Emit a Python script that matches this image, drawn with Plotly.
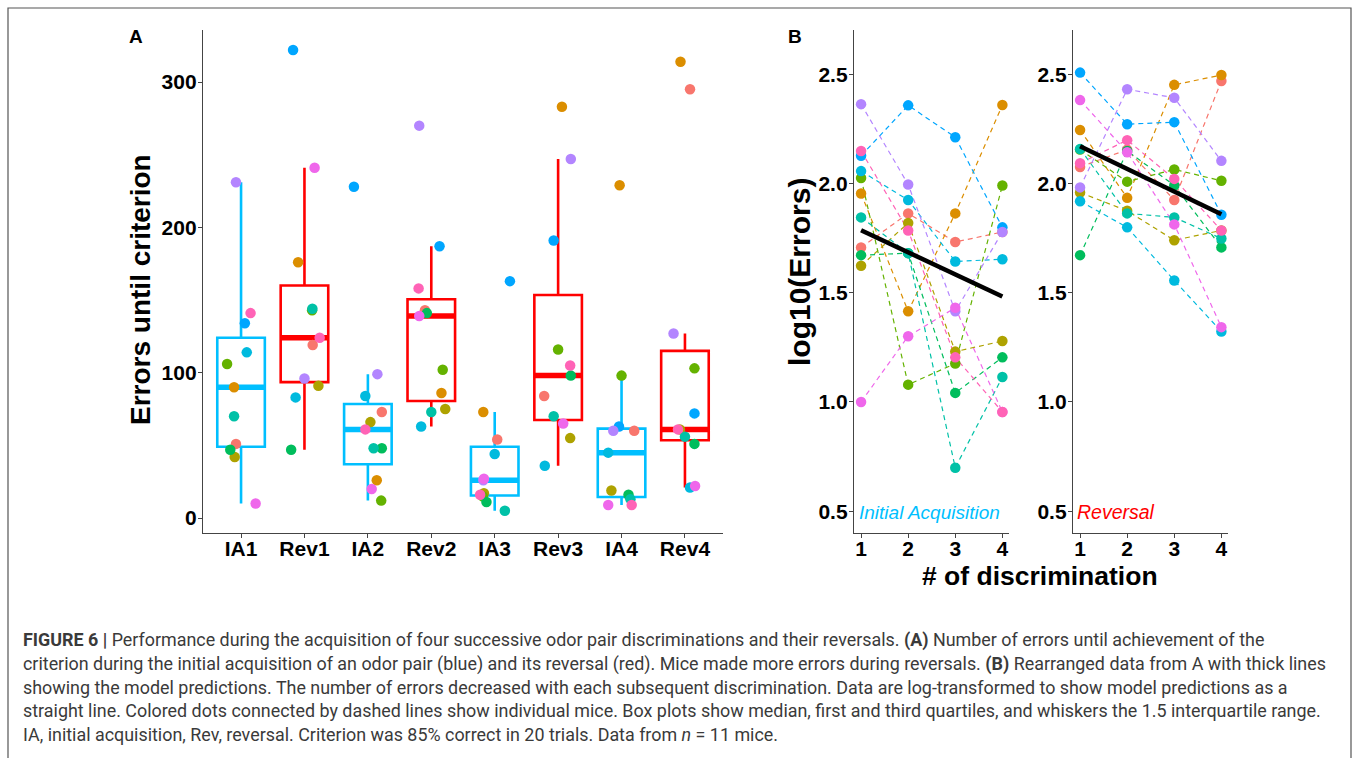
import numpy as np
import plotly.graph_objects as go

W, H = 1358, 758

# ---------------- data ----------------
STAGES = ["IA1", "Rev1", "IA2", "Rev2", "IA3", "Rev3", "IA4", "Rev4"]
DISCRIMINATIONS = [1, 2, 3, 4]
MOUSE_COLORS = ["#F8766D", "#DB8E00", "#AEA200", "#64B200", "#00BD5C", "#00C1A7",
                "#00BADE", "#00A6FF", "#B385FF", "#EF67EB", "#FF63B6"]

# errors until criterion, one row per mouse, columns = discrimination 1..4
IA_ERRORS = [
    [51, 73, 54, 60],
    [90, 26, 73, 229],
    [42, 66, 17, 19],
    [106, 12, 15, 98],
    [47, 48, 11, 16],
    [70, 48, 5, 13],
    [114, 84, 44, 45],
    [134, 228, 163, 63],
    [231, 99, 26, 60],
    [10, 20, 27, 9],
    [141, 61, 16, 9],
]
REV_ERRORS = [
    [119, 143, 84, 295],
    [176, 86, 283, 314],
    [91, 75, 55, 61],
    [143, 102, 116, 103],
    [47, 141, 98, 51],
    [144, 73, 70, 56],
    [83, 63, 36, 21],
    [322, 187, 191, 72],
    [96, 270, 247, 127],
    [241, 139, 65, 22],
    [124, 158, 105, 61],
]
# model predictions (log10 errors) at discrimination 1 and 4
MODEL_X = [1, 4]
MODEL_IA = [1.786, 1.483]
MODEL_REV = [2.171, 1.859]

# horizontal jitter of dots in panel A (style), per stage, per mouse
JITTER = [
    [-0.08, -0.11, -0.10, -0.22, -0.17, -0.11, 0.09, 0.06, -0.08, 0.23, 0.15],
    [0.13, -0.10, 0.22, 0.12, -0.21, 0.125, -0.14, -0.18, 0.0, 0.16, 0.24],
    [0.22, 0.14, 0.04, 0.21, 0.22, 0.09, -0.04, -0.22, 0.15, 0.06, -0.04],
    [-0.10, 0.16, 0.22, 0.18, -0.07, 0.0, -0.16, 0.13, -0.19, -0.19, -0.20],
    [0.04, -0.18, -0.17, -0.19, -0.13, 0.16, 0.0, 0.24, -0.18, -0.17, -0.23],
    [-0.22, 0.06, 0.19, 0.0, 0.20, -0.07, -0.21, -0.07, 0.20, 0.08, 0.19],
    [0.20, -0.03, -0.16, 0.0, 0.11, 0.14, -0.21, -0.04, -0.13, -0.21, 0.16],
    [0.08, -0.07, -0.08, 0.15, 0.15, 0.0, 0.08, 0.15, -0.18, 0.16, -0.11],
]

IA_COLOR = "#00BFFF"
REV_COLOR = "#FF0000"
FONT = "Liberation Sans"
CAP_FONT = "Roboto"
AXC = "#444444"


def px(x):
    return x / W


def py(y):
    return 1 - y / H


ia = np.array(IA_ERRORS, dtype=float)
rev = np.array(REV_ERRORS, dtype=float)
n_mice = ia.shape[0]
# stage columns interleaved IA1, Rev1, IA2, ...
stage_data = []
for d in range(4):
    stage_data.append(ia[:, d])
    stage_data.append(rev[:, d])

fig = go.Figure()

# ---------------- panel A: boxes ----------------
BOX_W = 0.75
for i, vals in enumerate(stage_data):
    pos = i + 1
    col = IA_COLOR if i % 2 == 0 else REV_COLOR
    q1, med, q3 = np.percentile(vals, [25, 50, 75])
    iqr = q3 - q1
    up = vals[vals <= q3 + 1.5 * iqr].max()
    lo = vals[vals >= q1 - 1.5 * iqr].min()
    fig.add_trace(go.Box(
        x=[pos], q1=[q1], median=[med], q3=[q3], lowerfence=[lo], upperfence=[up],
        width=BOX_W, line=dict(color=col, width=2.6), fillcolor="rgba(0,0,0,0)",
        boxpoints=False, whiskerwidth=0, xaxis="x", yaxis="y", hoverinfo="skip",
        showlegend=False))
    fig.add_trace(go.Scatter(
        x=[pos - BOX_W / 2, pos + BOX_W / 2], y=[med, med], mode="lines",
        line=dict(color=col, width=5.5), xaxis="x", yaxis="y",
        hoverinfo="skip", showlegend=False))

# ---------------- panel A: jittered dots ----------------
for m in range(n_mice):
    xs = [i + 1 + JITTER[i][m] for i in range(len(STAGES))]
    ys = [stage_data[i][m] for i in range(len(STAGES))]
    fig.add_trace(go.Scatter(
        x=xs, y=ys, mode="markers", marker=dict(color=MOUSE_COLORS[m], size=10.5),
        xaxis="x", yaxis="y", showlegend=False))

# ---------------- panel B: lines then points ----------------
for arr, xa, ya in [(ia, "x2", "y2"), (rev, "x3", "y3")]:
    logv = np.log10(arr)
    for m in range(n_mice):
        fig.add_trace(go.Scatter(
            x=DISCRIMINATIONS, y=logv[m], mode="lines",
            line=dict(color=MOUSE_COLORS[m], width=1.2, dash="5px,4px"),
            xaxis=xa, yaxis=ya, showlegend=False, hoverinfo="skip"))
    for m in range(n_mice):
        fig.add_trace(go.Scatter(
            x=DISCRIMINATIONS, y=logv[m], mode="markers",
            marker=dict(color=MOUSE_COLORS[m], size=10.5),
            xaxis=xa, yaxis=ya, showlegend=False))

for pred, xa, ya in [(MODEL_IA, "x2", "y2"), (MODEL_REV, "x3", "y3")]:
    fig.add_trace(go.Scatter(
        x=MODEL_X, y=pred, mode="lines", line=dict(color="black", width=4.5),
        xaxis=xa, yaxis=ya, showlegend=False, hoverinfo="skip"))

# ---------------- axes ----------------
tickfont = dict(family=FONT, size=21, color="black", weight="bold")
common = dict(showline=True, linecolor=AXC, linewidth=1.3, ticks="outside",
              ticklen=4, tickcolor=AXC, tickwidth=1.2, showgrid=False,
              zeroline=False, tickfont=tickfont, fixedrange=True)
xc = dict(common, ticklabelstandoff=-7)
yc = dict(common, ticklabelstandoff=-3)

yB_dom = [py(533), py(30)]
fig.update_layout(
    xaxis=dict(domain=[px(203), px(723)], range=[0.4, 8.6], tickvals=list(range(1, 9)),
               ticktext=STAGES, anchor="y", **xc),
    yaxis=dict(domain=yB_dom, range=[-10.3, 335.8], tickvals=[0, 100, 200, 300],
               anchor="x", **yc),
    xaxis2=dict(domain=[px(854), px(1008.5)], range=[0.85, 4.13], tickvals=DISCRIMINATIONS,
                anchor="y2", **xc),
    yaxis2=dict(domain=yB_dom, range=[0.4, 2.703], tickvals=[0.5, 1, 1.5, 2, 2.5],
                ticktext=["0.5", "1.0", "1.5", "2.0", "2.5"], anchor="x2", **yc),
    xaxis3=dict(domain=[px(1073), px(1227.5)], range=[0.85, 4.13], tickvals=DISCRIMINATIONS,
                anchor="y3", **xc),
    yaxis3=dict(domain=yB_dom, range=[0.4, 2.703], tickvals=[0.5, 1, 1.5, 2, 2.5],
                ticktext=["0.5", "1.0", "1.5", "2.0", "2.5"], anchor="x3", **yc),
)

# ---------------- text ----------------
ann = []


def add_text(x, y, text, size, color="black", bold=False, italic=False, angle=0,
             xanchor="center", family=FONT):
    ann.append(dict(x=px(x), y=py(y), xref="paper", yref="paper", text=text,
                    showarrow=False, textangle=angle, xanchor=xanchor, yanchor="middle",
                    font=dict(family=family, size=size, color=color,
                              weight="bold" if bold else "normal",
                              style="italic" if italic else "normal")))


add_text(136, 37, "A", 19, bold=True)
add_text(795, 37, "B", 19, bold=True)
add_text(141, 290, "Errors until criterion", 28, bold=True, angle=-90)
add_text(800, 272, "log10(Errors)", 30, bold=True, angle=-90)
add_text(1040, 576, "# of discrimination", 26.5, bold=True)
add_text(857, 512, "Initial Acquisition", 19, color=IA_COLOR, italic=True, xanchor="left")
add_text(1075, 512, "Reversal", 19.5, color=REV_COLOR, italic=True, xanchor="left")

CAPTION = [
    "<b>FIGURE 6 |</b> Performance during the acquisition of four successive odor pair discriminations and their reversals. <b>(A)</b> Number of errors until achievement of the",
    "criterion during the initial acquisition of an odor pair (blue) and its reversal (red). Mice made more errors during reversals. <b>(B)</b> Rearranged data from A with thick lines",
    "showing the model predictions. The number of errors decreased with each subsequent discrimination. Data are log-transformed to show model predictions as a",
    "straight line. Colored dots connected by dashed lines show individual mice. Box plots show median, first and third quartiles, and whiskers the 1.5 interquartile range.",
    "IA, initial acquisition, Rev, reversal. Criterion was 85% correct in 20 trials. Data from <i>n</i> = 11 mice.",
]
for k, line in enumerate(CAPTION):
    add_text(21, 640 + 23.5 * k, line, 17.9, color="#3a3a3a", xanchor="left", family=CAP_FONT)

fig.update_layout(
    annotations=ann,
    shapes=[dict(type="rect", xref="paper", yref="paper", x0=px(8), x1=px(1351),
                 y0=py(8), y1=py(800), line=dict(color="#555555", width=1.2),
                 fillcolor="rgba(0,0,0,0)", layer="below")],
    width=W, height=H, margin=dict(l=0, r=0, t=0, b=0),
    paper_bgcolor="white", plot_bgcolor="white", showlegend=False,
    boxmode="overlay",
)

fig.write_html("out.html", config={"displayModeBar": False},
               post_script="document.body.style.margin='0';document.body.style.overflow='hidden';")
